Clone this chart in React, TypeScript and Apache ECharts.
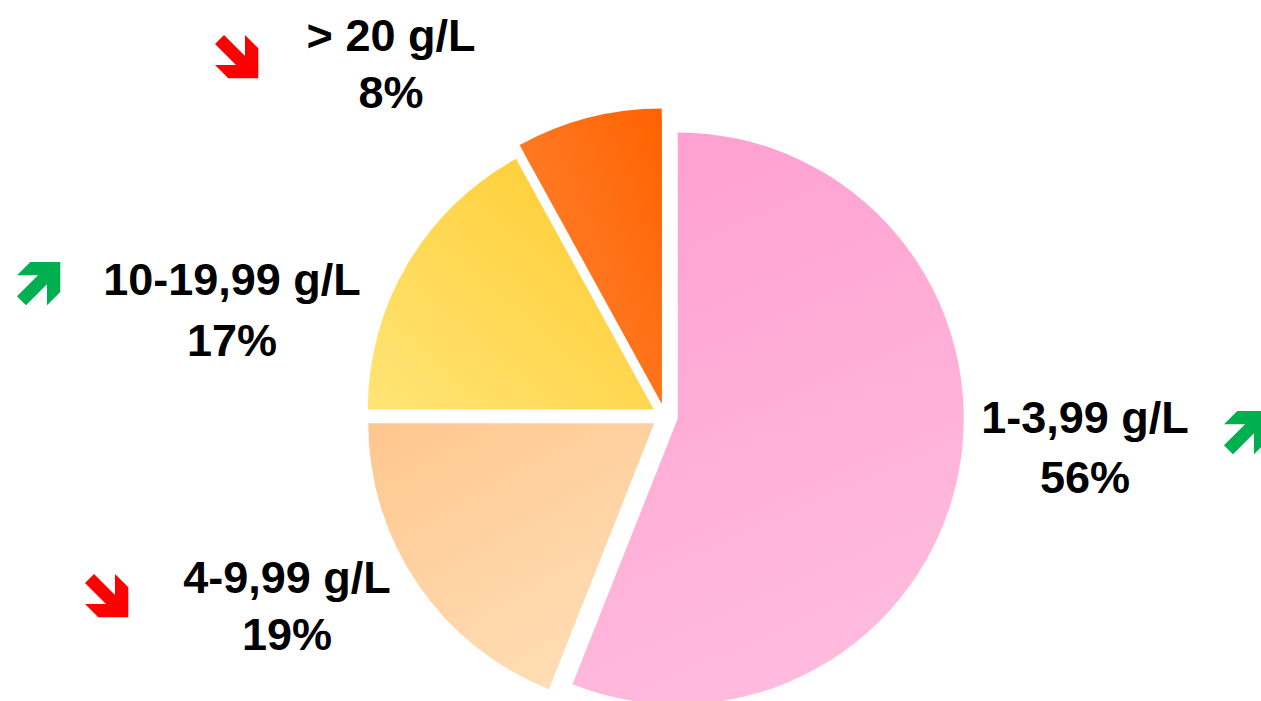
import React, { useEffect, useRef } from "react";
import * as echarts from "echarts";

// ---- data ----
const categories = ["1-3,99 g/L", "4-9,99 g/L", "10-19,99 g/L", "> 20 g/L"];
const shares = [56, 19, 17, 8];
const trends = ["up", "down", "up", "down"];

// ---- styling / layout ----
const gradients = [
  ["#FF9ED0", "#FFBADD"],
  ["#FFC68E", "#FFDDB4"],
  ["#FFCA2C", "#FFE475"],
  ["#FF6200", "#FF8432"],
];
const gradDirs = [
  [0, 0, 0.3, 1],
  [0, 0, 0.6, 1],
  [1, 0, 0, 1],
  [1, 0, 0, 0.8],
];
const labelPos = [
  [1085, 417, 477],
  [287, 577, 634],
  [232, 279, 340],
  [391, 35, 92],
];
const arrowPos = [
  [1224, 411],
  [85, 574],
  [17, 262],
  [215, 35],
];
const ARROW = 43.3;
const arrowPts = [
  [9, 0],
  [30, 21],
  [30, 0],
  [43.3, 13.3],
  [43.3, 43.3],
  [13.3, 43.3],
  [0, 30],
  [21, 30],
  [0, 9],
];

const CX = 665;
const CY = 416;
const R = 286;
const R_BIG = 295;
const OFFSET = 13;

function grad(i: number) {
  const [x, y, x2, y2] = gradDirs[i];
  return {
    type: "linear",
    x,
    y,
    x2,
    y2,
    colorStops: [
      { offset: 0, color: gradients[i][0] },
      { offset: 1, color: gradients[i][1] },
    ],
  };
}

export default function App() {
  const ref = useRef<HTMLDivElement>(null);
  useEffect(() => {
    if (!ref.current) return;
    const chart = echarts.init(ref.current, null, { renderer: "svg" });
    const baseData = categories.map((name, i) => ({
      name,
      value: shares[i],
      selected: true,
      itemStyle: { color: grad(i) },
    }));
    // orange slice is drawn slightly larger in the reference
    const bigData = categories.map((name, i) => ({
      name,
      value: shares[i],
      selected: true,
      itemStyle: { color: i === 3 ? grad(i) : "rgba(0,0,0,0)" },
    }));
    const graphics: any[] = [];
    categories.forEach((name, i) => {
      const [x, y1, y2] = labelPos[i];
      const font = {
        fontFamily: "'Liberation Sans', Arial, sans-serif",
        fontWeight: "bold",
        fontSize: 45,
        fill: "#000",
        textAlign: "center",
        textVerticalAlign: "middle",
      };
      graphics.push({ type: "text", x, y: y1, style: { ...font, text: name } });
      graphics.push({ type: "text", x, y: y2, style: { ...font, text: shares[i] + "%" } });
      const [ox, oy] = arrowPos[i];
      const up = trends[i] === "up";
      graphics.push({
        type: "polygon",
        shape: {
          points: arrowPts.map(([px, py]) => [ox + px, oy + (up ? ARROW - py : py)]),
        },
        style: { fill: up ? "#00B050" : "#FF0000" },
      });
    });
    const common = {
      type: "pie",
      center: [CX, CY],
      startAngle: 90,
      clockwise: true,
      selectedMode: "multiple",
      selectedOffset: OFFSET,
      silent: true,
      label: { show: false },
      labelLine: { show: false },
      emphasis: { disabled: true },
      itemStyle: { borderWidth: 0 },
    };
    chart.setOption({
      animation: false,
      backgroundColor: "#ffffff",
      series: [
        { ...common, radius: R, data: baseData },
        { ...common, radius: R_BIG, data: bigData },
      ],
      graphic: graphics,
    });
    return () => chart.dispose();
  }, []);
  return (
    <div
      ref={ref}
      style={{ position: "absolute", left: 0, top: 0, width: 1261, height: 701 }}
    />
  );
}
